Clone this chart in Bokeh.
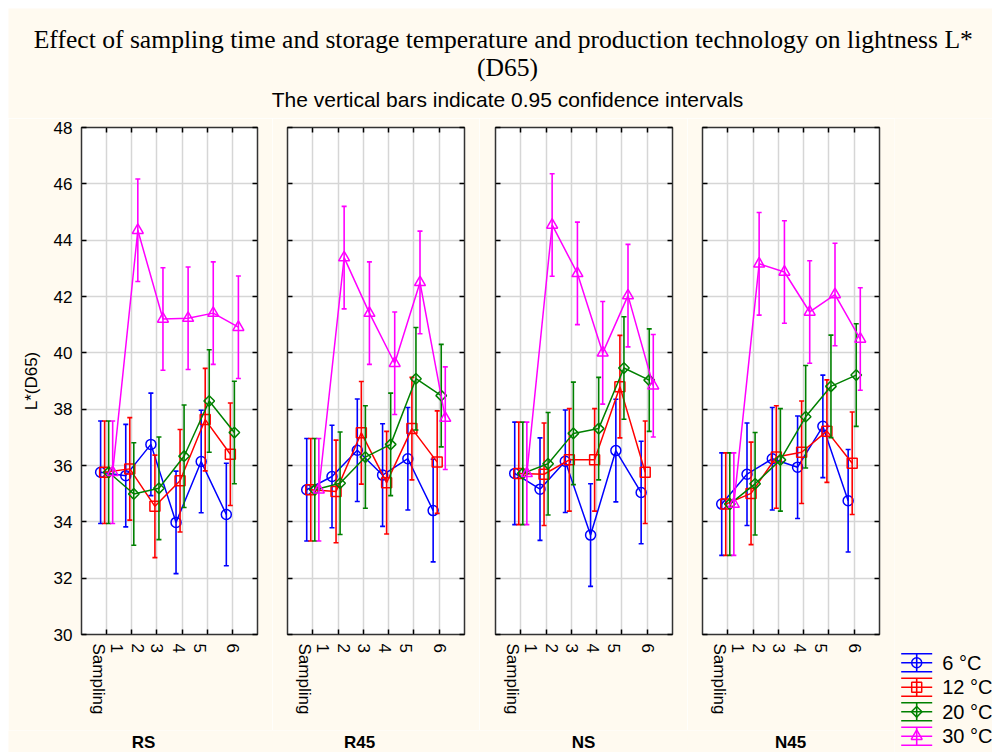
import math
from bokeh.plotting import figure
from bokeh.layouts import row, column
from bokeh.models import Range1d, FixedTicker, LinearAxis, ColumnDataSource, Grid
from bokeh.embed import file_html
from bokeh.resources import INLINE
from bokeh.core.properties import value

# ---------------- data ----------------
panels = ["RS", "R45", "NS", "N45"]
temps = ["6 °C", "12 °C", "20 °C", "30 °C"]
tick_labels = ["Sampling", "1", "2", "3", "4", "5", "6"]
y_ticks = [30, 32, 34, 36, 38, 40, 42, 44, 46, 48]
ci_half = 1.82  # half-width of the 0.95 confidence intervals

rs_6 = [35.76, 35.64, 36.75, 33.98, 36.14, 34.26]
rs_12 = [35.76, 35.88, 34.55, 35.46, 37.63, 36.40]
rs_20 = [35.76, 34.99, 35.19, 36.33, 38.29, 37.17]
rs_30 = [35.76, 44.35, 41.20, 41.23, 41.41, 40.91]

r45_6 = [35.14, 35.61, 36.54, 35.66, 36.24, 34.40]
r45_12 = [35.14, 35.08, 37.16, 35.39, 37.31, 36.12]
r45_20 = [35.14, 35.37, 36.30, 36.75, 39.08, 38.48]
r45_30 = [35.14, 43.38, 41.41, 39.63, 42.50, 37.68]

ns_6 = [35.72, 35.16, 36.15, 33.53, 36.53, 35.04]
ns_12 = [35.72, 35.69, 36.20, 36.20, 38.80, 35.76]
ns_20 = [35.72, 36.06, 37.14, 37.31, 39.46, 39.03]
ns_30 = [35.72, 44.54, 42.82, 40.00, 42.03, 38.83]

n45_6 = [34.63, 35.69, 36.24, 35.94, 37.39, 34.75]
n45_12 = [34.63, 35.01, 36.30, 36.47, 37.22, 36.08]
n45_20 = [34.63, 35.35, 36.20, 37.73, 38.81, 39.21]
n45_30 = [34.63, 43.16, 42.87, 41.45, 42.07, 40.49]

panel_data = {
    "RS": [rs_6, rs_12, rs_20, rs_30],
    "R45": [r45_6, r45_12, r45_20, r45_30],
    "NS": [ns_6, ns_12, ns_20, ns_30],
    "N45": [n45_6, n45_12, n45_20, n45_30],
}

# ---------------- styles / layout ----------------
BG = "#FFFAF0"
colors = ["#0000FF", "#FF0000", "#008000", "#FF00FF"]
markers = ["circle", "square", "square", "triangle"]
mangles = [0, 0, math.pi / 4, 0]
msizes = [10, 10, 7.5, 11]
dodge = [-0.24, -0.08, 0.08, 0.24]
label_pos = [0.68, 1.38, 2.22, 3.0, 3.84, 4.68, 6.0]
cat_pos = [1, 2, 3, 4, 5, 6]
strip_label_x = [135, 351, 575, 782]
SANS = "Liberation Sans"
SERIF = "Liberation Serif"

borders_lr = [(73, 15), (15, 15), (16, 15), (15, 15)]
frame_ws = [176, 177, 177, 177]


def tick_only_axis(ticks):
    ax = LinearAxis(ticker=FixedTicker(ticks=[], minor_ticks=ticks))
    ax.minor_tick_in = 5
    ax.minor_tick_out = 0
    ax.minor_tick_line_color = "black"
    ax.minor_tick_line_width = 1.5
    ax.major_tick_line_color = None
    ax.axis_line_color = None
    ax.major_label_standoff = 0
    return ax


def make_panel(idx, name):
    bl, br = borders_lr[idx]
    p = figure(frame_width=frame_ws[idx], frame_height=507,
               x_range=Range1d(0, 7), y_range=Range1d(30, 48),
               output_backend="svg", toolbar_location=None,
               min_border_left=bl, min_border_right=br,
               min_border_top=9, min_border_bottom=96,
               x_axis_location=None, y_axis_location=None)
    p.background_fill_color = "white"
    p.border_fill_color = BG
    p.outline_line_color = "#333333"
    p.outline_line_width = 1.5
    p.xgrid.visible = False
    p.ygrid.visible = False
    p.add_layout(Grid(dimension=0, ticker=FixedTicker(ticks=cat_pos),
                      grid_line_color="#d6d6d6", grid_line_width=1.5))
    p.add_layout(Grid(dimension=1, ticker=FixedTicker(ticks=y_ticks),
                      grid_line_color="#d6d6d6", grid_line_width=1.5))

    if idx == 0:
        la = LinearAxis(ticker=FixedTicker(ticks=y_ticks))
        la.major_tick_in = 5
        la.major_tick_out = 0
        la.minor_tick_line_color = None
        la.axis_line_color = None
        la.major_tick_line_color = "black"
        la.major_tick_line_width = 1.5
        la.major_label_text_font = SANS
        la.major_label_text_font_size = "17px"
        la.major_label_text_color = "black"
        la.major_label_standoff = 9
        la.axis_label = "L*(D65)"
        la.axis_label_text_font = SANS
        la.axis_label_text_font_size = "17px"
        la.axis_label_text_font_style = "normal"
        la.axis_label_text_color = "black"
        la.axis_label_standoff = 10
    else:
        la = tick_only_axis(y_ticks)
    p.add_layout(la, "left")
    p.add_layout(tick_only_axis(y_ticks), "right")
    p.add_layout(tick_only_axis(cat_pos), "above")

    ba = LinearAxis(ticker=FixedTicker(ticks=label_pos, minor_ticks=cat_pos))
    ba.major_label_overrides = {pos: lab for pos, lab in zip(label_pos, tick_labels)}
    ba.major_label_orientation = "vertical"
    ba.major_tick_line_color = None
    ba.major_tick_in = 0
    ba.major_tick_out = 0
    ba.minor_tick_in = 5
    ba.minor_tick_out = 0
    ba.minor_tick_line_color = "black"
    ba.minor_tick_line_width = 1.5
    ba.axis_line_color = None
    ba.major_label_standoff = 9
    ba.major_label_text_font = SANS
    ba.major_label_text_font_size = "17px"
    ba.major_label_text_color = "black"
    p.add_layout(ba, "below")

    for si, ys in enumerate(panel_data[name]):
        xs = [cat_pos[i] + dodge[si] for i in range(len(ys))]
        src = ColumnDataSource(dict(
            x=xs, y=ys,
            lo=[v - ci_half for v in ys],
            hi=[v + ci_half for v in ys]))
        c = colors[si]
        p.segment(x0="x", y0="lo", x1="x", y1="hi", source=src,
                  line_color=c, line_width=1.6)
        p.scatter("x", "lo", marker="dash", size=5, line_color=c,
                  line_width=1.6, source=src)
        p.scatter("x", "hi", marker="dash", size=5, line_color=c,
                  line_width=1.6, source=src)
        p.line("x", "y", source=src, line_color=c, line_width=1.5)
        p.scatter("x", "y", marker=markers[si], angle=mangles[si], size=msizes[si],
                  fill_color=None, line_color=c, line_width=1.5, source=src)
    return p


figs = [make_panel(i, n) for i, n in enumerate(panels)]


def blank_fig(w, h):
    f = figure(width=w, height=h, x_range=Range1d(0, w), y_range=Range1d(0, h),
               output_backend="svg", toolbar_location=None, min_border=0,
               x_axis_location=None, y_axis_location=None)
    f.grid.visible = False
    f.outline_line_color = None
    f.background_fill_color = BG
    f.border_fill_color = BG
    return f


# ---------------- panel name strip ----------------
strip = blank_fig(886, 22)
strip.text(x=strip_label_x, y=[10] * 4, text=panels, text_font=value(SANS),
           text_font_size="17px", text_font_style="bold", text_align="center",
           text_baseline="middle", text_color="black")

# ---------------- legend ----------------
leg = blank_fig(98, 634)
for i, t in enumerate(temps):
    cy = 89.7 - 24.5 * i
    c = colors[i]
    leg.segment(x0=[6.7, 6.7, 6.7, 22.2], y0=[cy + 9, cy, cy - 9, cy - 9],
                x1=[37.7, 37.7, 37.7, 22.2], y1=[cy + 9, cy, cy - 9, cy + 9],
                line_color=c, line_width=1.6)
    leg.scatter([22.2], [cy], marker=markers[i], angle=mangles[i], size=msizes[i],
                fill_color=None, line_color=c, line_width=1.5)
    leg.text(x=[47.7], y=[cy], text=[t], text_font=value(SANS), text_font_size="20px",
             text_baseline="middle", text_align="left", text_color="black")

# ---------------- title ----------------
tf = blank_fig(984, 110)
tf.text(x=[498], y=[79.5],
        text=["Effect of sampling time and storage temperature and production technology on  lightness L*"],
        text_align="center", text_baseline="alphabetic", text_font=value(SERIF),
        text_font_size="25.6px", text_color="black")
tf.text(x=[499], y=[51], text=["(D65)"], text_align="center", text_baseline="alphabetic",
        text_font=value(SERIF), text_font_size="25.6px", text_color="black")
tf.text(x=[499], y=[19], text=["The vertical bars indicate 0.95 confidence intervals"],
        text_align="center", text_baseline="alphabetic", text_font=value(SANS),
        text_font_size="21px", text_color="black")

layout = column(
    tf,
    row(column(row(*figs, spacing=0), strip, spacing=0), column(leg), spacing=0),
    spacing=0, margin=(8, 0, 0, 8))

with open("out.html", "w") as f:
    f.write(file_html(layout, INLINE))
